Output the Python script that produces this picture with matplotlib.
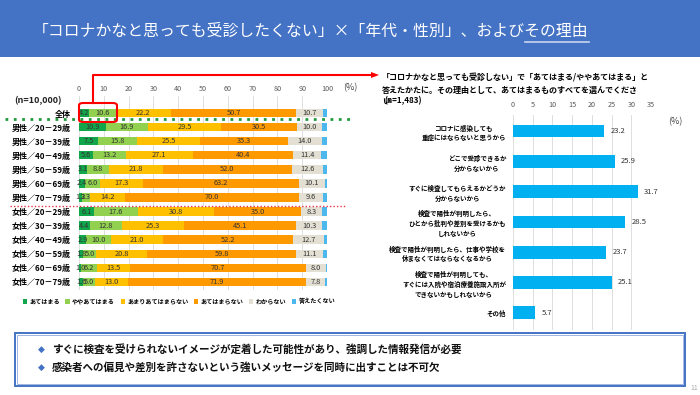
import matplotlib
matplotlib.use("Agg")
import matplotlib.pyplot as plt
from matplotlib.patches import Rectangle, FancyBboxPatch
from matplotlib.lines import Line2D
import numpy as np

plt.rcParams['font.family'] = ['Noto Sans CJK JP', 'DejaVu Sans']

# ---------------- data ----------------
groups = ["全体",
          "男性／20－29歳", "男性／30－39歳", "男性／40－49歳",
          "男性／50－59歳", "男性／60－69歳", "男性／70－79歳",
          "女性／20－29歳", "女性／30－39歳", "女性／40－49歳",
          "女性／50－59歳", "女性／60－69歳", "女性／70－79歳"]
answers = ["あてはまる", "ややあてはまる", "あまりあてはまらない",
           "あてはまらない", "わからない", "答えたくない"]
atehamaru      = [4.2, 10.9, 7.5, 5.6, 3.1, 2.4, 1.2, 6.1, 4.4, 2.9, 1.8, 1.0, 1.6]
yaya           = [10.6, 16.9, 15.8, 13.2, 8.8, 6.0, 3.3, 17.6, 12.8, 10.0, 5.0, 6.2, 5.0]
amari          = [22.2, 29.5, 25.5, 27.1, 21.8, 17.3, 14.2, 30.8, 25.3, 21.0, 20.8, 13.5, 13.0]
atehamaranai   = [50.7, 30.5, 35.3, 40.4, 52.0, 63.2, 70.0, 35.0, 45.1, 52.2, 59.8, 70.7, 71.9]
wakaranai      = [10.7, 10.0, 14.0, 11.4, 12.6, 10.1, 9.6, 8.3, 10.3, 12.7, 11.1, 8.0, 7.8]
kotaetakunai   = [1.6, 2.2, 1.9, 2.3, 1.7, 1.0, 1.7, 2.2, 2.1, 1.2, 1.5, 0.6, 0.7]
left_ticks = [0, 10, 20, 30, 40, 50, 60, 70, 80, 90, 100]

reasons = ["コロナに感染しても\n重症にはならないと思うから",
           "どこで受診できるか\n分からないから",
           "すぐに検査してもらえるかどうか\n分からないから",
           "検査で陽性が判明したら、\nひとから批判や差別を受けるかも\nしれないから",
           "検査で陽性が判明したら、仕事や学校を\n休まなくてはならなくなるから",
           "検査で陽性が判明しても、\nすぐには入院や宿泊療養施設入所が\nできないかもしれないから",
           "その他"]
reason_values = [23.2, 25.9, 31.7, 28.5, 23.7, 25.1, 5.7]
right_ticks = [0, 5, 10, 15, 20, 25, 30, 35]

W, H = 700, 395
fig = plt.figure(figsize=(7, 3.95), dpi=100)
fig.patch.set_facecolor("white")

def fx(x):
    return x / W

def fy(y):
    return 1 - y / H

def axes_px(x0, y0, x1, y1):
    return fig.add_axes([fx(x0), fy(y1), fx(x1) - fx(x0), (y1 - y0) / H])

# ---------------- header ----------------
fig.patches.append(Rectangle((0, fy(57)), 1, 57 / H, transform=fig.transFigure,
                             facecolor="#4472C4", edgecolor="none", zorder=0))
title_main = "「コロナかなと思っても受診したくない」×「年代・性別」、および"
title_ul = "その理由"
t_full = fig.text(fx(33), fy(31), title_main + title_ul, color="white",
                  fontsize=11.4, va="center", ha="left")
t_part = fig.text(fx(33), fy(31), title_main, color="none",
                  fontsize=11.4, va="center", ha="left")
fig.canvas.draw()
r = fig.canvas.get_renderer()
bb_full = t_full.get_window_extent(r)
bb_part = t_part.get_window_extent(r)
t_part.remove()
fig.lines.append(Line2D([bb_part.x1 / W, bb_full.x1 / W], [fy(42), fy(42)],
                        transform=fig.transFigure, color="#C9D6EE", lw=1.2))

# ---------------- left chart ----------------
colors = ["#12A64B", "#92D050", "#FFC000", "#FF9900", "#E3E0D3", "#4DB8EE"]
series = [atehamaru, yaya, amari, atehamaranai, wakaranai, kotaetakunai]

row_top, row_step = 113, 14.08
ax_top, ax_bot = 96, 290
axL = axes_px(79, ax_top, 327, ax_bot)
y = np.arange(len(groups))
left = np.zeros(len(groups))
for i, (vals, c) in enumerate(zip(series, colors)):
    vals = np.array(vals)
    axL.barh(y, vals, left=left, height=0.6, color=c, label=answers[i], zorder=2)
    if i < 5:
        for yy, l, v in zip(y, left, vals):
            axL.text(l + v / 2, yy, f"{v:.1f}", ha="center", va="center",
                     fontsize=5.3, color="#333333", zorder=3)
    left += vals
ylim_top = -(row_top - ax_top) / row_step
ylim_bot = (ax_bot - row_top) / row_step
axL.set_ylim(ylim_bot, ylim_top)
axL.set_xlim(0, 100)
axL.set_xticks(left_ticks)
axL.xaxis.tick_top()
axL.tick_params(axis="x", length=0, labelsize=5.2, labelcolor="#595959", pad=2)
axL.set_yticks(y)
axL.set_yticklabels(groups, fontsize=5.8, fontweight="bold")
axL.tick_params(axis="y", length=0, pad=6)
axL.grid(axis="x", color="#D9D9D9", lw=0.6, zorder=0)
for s in axL.spines.values():
    s.set_visible(False)
axL.set_facecolor("none")

fig.text(fx(14), fy(101), "(n=10,000)", fontsize=6.5, fontweight="bold",
         ha="left", va="center", color="#222222")
fig.text(fx(343), fy(88), "(%)", fontsize=6.5, ha="left", va="center", color="#444444")

# dotted separators
fig.lines.append(Line2D([fx(5), fx(352)], [fy(119), fy(119)], transform=fig.transFigure,
                        color="#1E9A3A", lw=2.0, ls=(0, (1, 2)), zorder=5))
fig.lines.append(Line2D([fx(10), fx(345)], [fy(206), fy(206)], transform=fig.transFigure,
                        color="#E8334A", lw=1.0, ls=(0, (1, 1.5)), zorder=5))

# red highlight box and arrow
fig.patches.append(FancyBboxPatch((fx(79), fy(122)), fx(117) - fx(79), (122 - 103) / H,
                                  boxstyle="round,pad=0,rounding_size=0.006",
                                  transform=fig.transFigure, facecolor="none",
                                  edgecolor="#FF0000", lw=1.5, zorder=6))
fig.lines.append(Line2D([fx(93), fx(93), fx(372)], [fy(103), fy(75), fy(75)],
                        transform=fig.transFigure, color="#FF0000", lw=1.5, zorder=6))
fig.patches.append(plt.Polygon([[fx(371), fy(72)], [fx(379), fy(75)], [fx(371), fy(78)]],
                               closed=True, transform=fig.transFigure,
                               facecolor="#FF0000", edgecolor="none", zorder=6))

# legend
handles = [Rectangle((0, 0), 1, 1, facecolor=c) for c in colors]
fig.legend(handles, answers, loc="center", bbox_to_anchor=(fx(179), fy(301)),
           ncol=6, frameon=False, handlelength=0.7, handleheight=0.7,
           handletextpad=0.4, columnspacing=0.9, borderpad=0,
           prop={"weight": "bold", "size": 4.4})

# ---------------- right chart ----------------
rt_lines = ["「コロナかなと思っても受診しない」で「あてはまる/ややあてはまる」と",
            "答えたかたに。その理由として、あてはまるものすべてを選んでくださ"]
fig.text(fx(382), fy(78), rt_lines[0], fontsize=5.8, fontweight="bold", ha="left", va="center")
fig.text(fx(382), fy(90), rt_lines[1], fontsize=5.8, fontweight="bold", ha="left", va="center")
fig.text(fx(382), fy(101), "い", fontsize=5.8, fontweight="bold", ha="left", va="center")
fig.text(fx(384), fy(101), "(n=1,483)", fontsize=5.8, fontweight="bold", ha="left", va="center")

r_top, r_bot = 115, 330
r_row0, r_step = 131, 30.3
axR = axes_px(513, r_top, 651, r_bot)
yr = np.arange(len(reasons))
axR.barh(yr, reason_values, height=0.42, color="#00B0F0", zorder=2)
for yy, v in zip(yr, reason_values):
    axR.annotate(f"{v:.1f}", (v, yy), xytext=(6, 0), textcoords="offset pixels",
                 ha="left", va="center", fontsize=5.5, color="#333333")
axR.set_xlim(0, 35)
axR.set_ylim((r_bot - r_row0) / r_step, -(r_row0 - r_top) / r_step)
axR.set_xticks(right_ticks)
axR.xaxis.tick_top()
axR.tick_params(axis="x", length=0, labelsize=5.2, labelcolor="#595959", pad=4)
axR.set_yticks(yr)
axR.set_yticklabels(reasons, fontsize=4.7, fontweight="bold", multialignment="center",
                    linespacing=1.45)
axR.tick_params(axis="y", length=0, pad=5)
axR.grid(axis="x", color="#D9D9D9", lw=0.6, zorder=0)
for s in axR.spines.values():
    s.set_visible(False)
axR.set_facecolor("none")
fig.text(fx(668), fy(122), "(%)", fontsize=6.5, ha="left", va="center", color="#444444")

# ---------------- bottom box ----------------
fig.patches.append(Rectangle((fx(15), fy(386)), fx(685) - fx(15), (386 - 333) / H,
                             transform=fig.transFigure, facecolor="white",
                             edgecolor="#4472C4", lw=1.4, zorder=7))
fig.patches.append(Rectangle((fx(17), fy(384)), fx(683) - fx(17), (384 - 335) / H,
                             transform=fig.transFigure, facecolor="none",
                             edgecolor="#8FAADC", lw=0.6, zorder=7))
msgs = ["すぐに検査を受けられないイメージが定着した可能性があり、強調した情報発信が必要",
        "感染者への偏見や差別を許さないという強いメッセージを同時に出すことは不可欠"]
for yy, m in zip([349, 367], msgs):
    fig.text(fx(38), fy(yy), "◆", color="#4472C4", fontsize=6.5, ha="left", va="center",
             zorder=8, family=["DejaVu Sans"])
    fig.text(fx(52), fy(yy), m, color="#111111", fontsize=7.6, ha="left", va="center",
             fontweight="bold", zorder=8)
fig.text(fx(690), fy(388), "11", color="#AAAAAA", fontsize=5, ha="left", va="center")

fig.savefig("out.png", dpi=100, facecolor="white")
